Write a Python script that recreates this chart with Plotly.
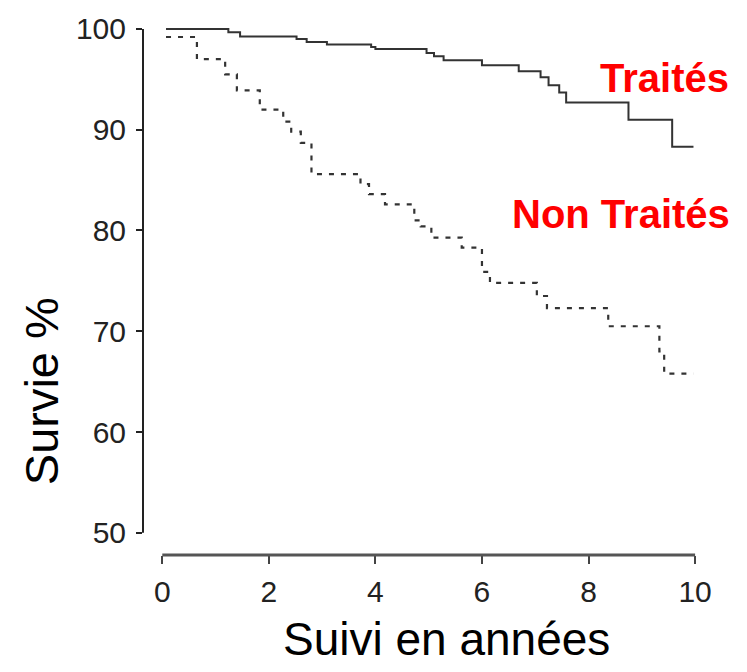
import plotly.graph_objects as go

# Kaplan-Meier style survival curves (years of follow-up vs % survival)
treated_years = [0.07, 1.24, 1.46, 2.52, 2.71, 3.09, 3.92, 4.0, 4.96, 5.1, 5.28,
                 6.0, 6.69, 7.1, 7.25, 7.45, 7.58, 8.75, 9.57, 9.97]
treated_surv = [100, 99.67, 99.25, 99.0, 98.7, 98.45, 98.2, 98.0, 97.6, 97.3, 96.9,
                96.4, 95.8, 95.2, 94.4, 93.7, 92.7, 91.0, 88.3, 88.3]

untreated_years = [0.07, 0.65, 1.18, 1.4, 1.83, 2.27, 2.42, 2.6, 2.8, 3.72, 3.88,
                   4.18, 4.73, 4.85, 5.05, 5.62, 6.0, 6.15, 7.03, 7.22, 8.37,
                   9.33, 9.42, 9.97]
untreated_surv = [99.2, 97.0, 95.5, 93.9, 92.0, 90.8, 89.8, 88.7, 85.6, 84.6, 83.6,
                  82.6, 81.0, 80.4, 79.3, 78.3, 75.9, 74.8, 73.5, 72.3, 70.5,
                  68.0, 65.8, 65.8]

x_ticks = [0, 2, 4, 6, 8, 10]
y_ticks = [50, 60, 70, 80, 90, 100]

label_treated = "Traités"
label_untreated = "Non Traités"
x_title = "Suivi en années"
y_title = "Survie %"

W, H = 747, 672
ML, MR, MT, MB = 143, 37, 15, 117

fig = go.Figure()
fig.add_trace(go.Scatter(
    x=treated_years, y=treated_surv, mode="lines", line_shape="hv",
    line=dict(color="#333333", width=2), name=label_treated, showlegend=False))
fig.add_trace(go.Scatter(
    x=untreated_years, y=untreated_surv, mode="lines", line_shape="hv",
    line=dict(color="#333333", width=2.2, dash="5px,7px"), name=label_untreated,
    showlegend=False))

tick_font = dict(family="Liberation Sans Narrow, Arial Narrow, Liberation Sans, Arial",
                 size=30, color="#222222")

fig.update_xaxes(
    range=[-0.362, 10.28], tickvals=x_ticks, ticktext=[str(v) for v in x_ticks],
    ticks="outside", ticklen=8, tickwidth=2, tickcolor="#444444",
    showline=False, showgrid=False, zeroline=False, tickfont=tick_font,
    ticklabelstandoff=2)
fig.update_yaxes(
    range=[47.80, 100.985], tickvals=y_ticks, ticktext=[str(v) for v in y_ticks],
    ticks="outside", ticklen=6, tickwidth=1.5, tickcolor="#222222",
    showline=False, showgrid=False, zeroline=False, tickfont=tick_font,
    ticklabelstandoff=4)

# Axis lines limited to the data span (x: 0-10, y: 50-100)
fig.add_shape(type="line", xref="x", yref="paper", x0=x_ticks[0], x1=x_ticks[-1],
              y0=0, y1=0, line=dict(color="#555555", width=3))
fig.add_shape(type="line", xref="paper", yref="y", x0=0, x1=0,
              y0=y_ticks[0], y1=y_ticks[-1], line=dict(color="#222222", width=2))

pw = W - ML - MR
ph = H - MT - MB

def px_to_paper(px, py):
    return (px - ML) / pw, (H - MB - py) / ph

ax, ay = px_to_paper(446, 640)
fig.add_annotation(text=x_title, x=ax, y=ay, xref="paper", yref="paper",
                   xanchor="center", yanchor="middle", showarrow=False,
                   font=dict(family="Liberation Sans, Arial", size=46, color="#000000"))
ax, ay = px_to_paper(41, 390)
fig.add_annotation(text=y_title, x=ax, y=ay, xref="paper", yref="paper",
                   xanchor="center", yanchor="middle", textangle=-90, showarrow=False,
                   font=dict(family="Liberation Sans, Arial", size=47, color="#000000"))

red_font = dict(family="Liberation Sans, Arial", size=40, color="#ff0000")
ax, ay = px_to_paper(731, 74)
fig.add_annotation(text="<b>%s</b>" % label_treated, x=ax, y=ay, xref="paper",
                   yref="paper", xanchor="right", yanchor="middle",
                   showarrow=False, font=red_font)
ax, ay = px_to_paper(732, 211)
fig.add_annotation(text="<b>%s</b>" % label_untreated, x=ax, y=ay, xref="paper",
                   yref="paper", xanchor="right", yanchor="middle",
                   showarrow=False, font=red_font)

fig.update_layout(
    width=W, height=H, margin=dict(l=ML, r=MR, t=MT, b=MB, pad=0),
    paper_bgcolor="white", plot_bgcolor="white")

fig.write_html("out.html")
